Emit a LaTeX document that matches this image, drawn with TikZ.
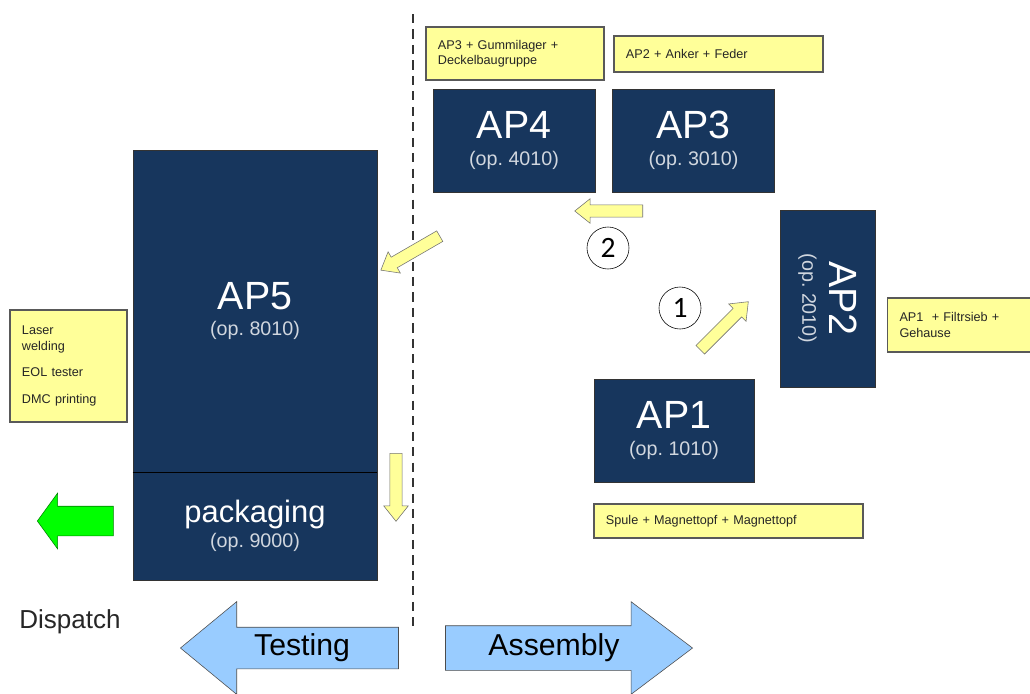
\documentclass[tikz,border=0pt]{standalone}
\usepackage{fontspec}
\setmainfont{Liberation Sans}
\newfontfamily\numfont{Carlito}
\usetikzlibrary{shapes.arrows, calc}
\definecolor{opBlue}{HTML}{17365D}
\definecolor{partYellow}{HTML}{FFFF99}
\definecolor{phaseBlue}{HTML}{99CCFF}
\definecolor{goGreen}{HTML}{00FF00}
\newcommand{\opLabel}[4]{{\fontsize{#3}{#3}\selectfont #1}\\[#4]{\fontsize{14}{16}\selectfont\color{white!80!opBlue}(op.~#2)}}

\begin{document}
\begin{tikzpicture}[
	x=0.025cm, y=-0.025cm,
	opBox/.style={draw=black!80, fill=opBlue, text=white, align=center, inner sep=0pt},
	partBox/.style={draw=black!65, line width=1pt, fill=partYellow, text=black!85, align=left,
		inner xsep=0.3cm, inner ysep=0pt, font=\fontsize{9}{11}\selectfont},
	flowArrow/.style={single arrow, draw=black!55, fill=partYellow, inner xsep=0pt, inner ysep=0.145cm,
		minimum height=1.7cm, single arrow head extend=0.155cm,
		single arrow tip angle=77, anchor=tail},
	phaseArrow/.style={single arrow, draw=black!70, fill=phaseBlue, inner xsep=0pt, anchor=tip},
	stepMark/.style={circle, draw, fill=white, inner sep=0pt, minimum size=1.05cm,
		font=\numfont\fontsize{21}{21}\selectfont}
	]
	\useasboundingbox (0,0) rectangle (1030,693);

	% border between testing and assembly
	\draw[black!80, line width=2pt, dash pattern=on 6.5pt off 4.5pt] (413,14) -- (413,630);

	% stations
	\node[opBox, minimum width=6.1cm, minimum height=8.05cm] (ap5) at (255,311) {\opLabel{AP5}{8010}{28}{7pt}};
	\node[opBox, minimum width=6.1cm, minimum height=2.7cm] (pack) at (255,526) {\opLabel{packaging}{9000}{22}{2pt}};
	\draw[black, line width=1pt] (ap5.south west) -- (ap5.south east);
	\node[opBox, minimum width=4.05cm, minimum height=2.575cm] (ap4) at (514,140.5) {\opLabel{AP4}{4010}{28}{7pt}};
	\node[opBox, minimum width=4.05cm, minimum height=2.575cm] (ap3) at (693.5,140.5) {\opLabel{AP3}{3010}{28}{7pt}};
	\node[opBox, minimum width=4.425cm, minimum height=2.375cm, rotate=-90] (ap2) at (827.5,298.5) {\opLabel{AP2}{2010}{28}{7pt}};
	\node[opBox, minimum width=4.0cm, minimum height=2.575cm] (ap1) at (674,430.5) {\opLabel{AP1}{1010}{28}{7pt}};

	% parts fed to each station
	\node[partBox, text width=3.85cm, minimum height=1.325cm] (partsAP4) at (515,53.5) {AP3 + Gummilager +\\Deckelbaugruppe};
	\node[partBox, text width=4.625cm, minimum height=0.9cm] (partsAP3) at (718.5,54) {AP2 + Anker + Feder};
	\node[partBox, text width=3.05cm, minimum height=1.35cm] (partsAP2) at (960.5,325) {AP1 \ + Filtrsieb +\\Gehause};
	\node[partBox, text width=6.125cm, minimum height=0.85cm] (partsAP1) at (728.5,521) {Spule + Magnettopf + Magnettopf};
	\node[partBox, text width=2.325cm, minimum height=2.8cm] (partsAP5) at (68.5,366) {Laser\\welding\\[8pt]EOL tester\\[8pt]DMC printing};

	% material flow
	\node[flowArrow, rotate=45] (flow1) at (700,350) {};
	\node[flowArrow, rotate=180] (flow2) at (643,211) {};
	\node[flowArrow, rotate=210] (flow3) at (440,236) {};
	\node[flowArrow, rotate=-90] (flow4) at (396,453) {};
	\node[stepMark] (step1) at (680,308) {1};
	\node[stepMark] (step2) at (608,248) {2};

	% dispatch
	\node[single arrow, draw=green!50!black, fill=goGreen, inner xsep=0pt, inner ysep=0.3625cm,
		minimum height=1.9cm, single arrow head extend=0.325cm, single arrow tip angle=108,
		anchor=tip, rotate=180] (dispatchArrow) at (37,521) {};
	\node[text=black!85, font=\fontsize{18.5}{20}\selectfont] (dispatch) at (70,622) {Dispatch};

	% phases
	\node[phaseArrow, inner ysep=0.5125cm, minimum height=5.45cm, single arrow head extend=0.64cm,
		single arrow tip angle=79, rotate=180] (testArrow) at (180,648) {};
	\node[font=\fontsize{21.5}{22}\selectfont] (testing) at (302,648) {Testing};
	\node[phaseArrow, inner ysep=0.55cm, minimum height=6.175cm, single arrow head extend=0.6cm,
		single arrow tip angle=74] (assyArrow) at (693,648) {};
	\node[font=\fontsize{21.5}{22}\selectfont] (assembly) at (554,648) {Assembly};
\end{tikzpicture}
\end{document}
